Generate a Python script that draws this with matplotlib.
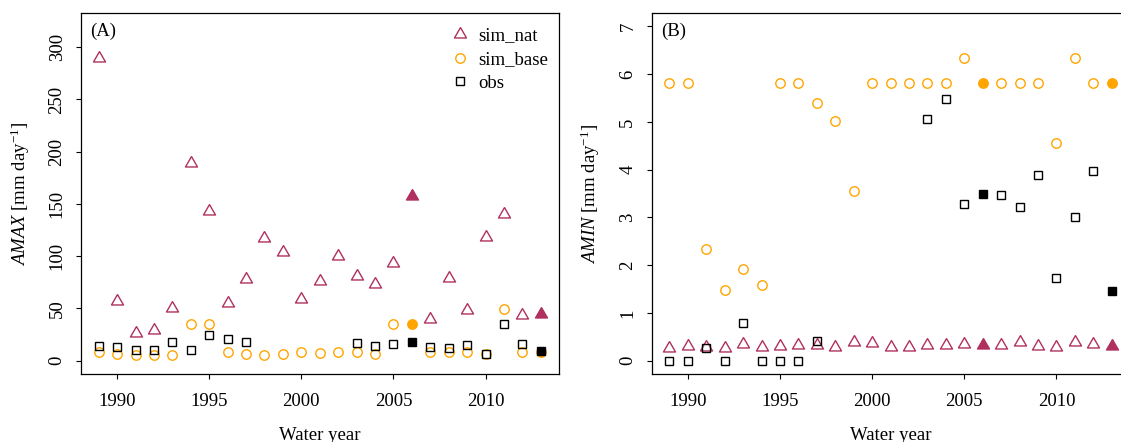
import numpy as np
import matplotlib
matplotlib.use("Agg")
import matplotlib.pyplot as plt
from matplotlib.lines import Line2D

plt.rcParams["font.family"] = ["Liberation Serif", "DejaVu Serif"]
plt.rcParams["mathtext.fontset"] = "custom"
plt.rcParams["mathtext.rm"] = "Liberation Serif"
plt.rcParams["mathtext.it"] = "Liberation Serif:italic"
plt.rcParams["font.size"] = 13.5

# ---------------------------------------------------------------------------
# Data: annual maxima / minima per water year
# ---------------------------------------------------------------------------
years = np.arange(1989, 2014)
highlight_years = [2006, 2013]

amax_sim_nat = [290, 57, 26, 29, 50, 189, 143, 55, 78, 117, 104, 59, 76,
                100, 81, 73, 93, 158, 40, 79, 48, 118, 140, 44, 45]
amax_sim_base = [8.3, 6.4, 5.0, 5.0, 5.8, 34.8, 34.8, 8.3, 6.0, 5.5, 6.7, 8.3,
                 7.0, 8.0, 8.3, 6.7, 34.8, 34.8, 8.3, 8.0, 8.3, 6.4, 49.5, 8.6, 8.6]
amax_obs = [13.7, 13.0, 10.5, 10.5, 17.5, 10.2, 25.0, 20.8, 18.2,
            np.nan, np.nan, np.nan, np.nan, np.nan,
            17.2, 13.7, 15.6, 17.5, 13.4, 12.5, 15.0, 6.4, 35.0, 16.3, 9.6]

amin_sim_nat = [0.26, 0.31, 0.28, 0.27, 0.34, 0.29, 0.31, 0.33, 0.33, 0.29,
                0.40, 0.36, 0.29, 0.29, 0.33, 0.32, 0.34, 0.33, 0.32, 0.40,
                0.31, 0.28, 0.38, 0.34, 0.30]
amin_sim_base = [5.81, 5.81, 2.33, 1.47, 1.92, 1.59, 5.81, 5.81, 5.40, 5.02,
                 3.56, 5.81, 5.81, 5.81, 5.81, 5.81, 6.34, 5.81, 5.81, 5.81,
                 5.81, 4.55, 6.34, 5.81, 5.81]
amin_obs = [0.0, 0.0, 0.26, 0.0, 0.78, 0.0, 0.0, 0.0, 0.42,
            np.nan, np.nan, np.nan, np.nan, np.nan,
            5.06, 5.47, 3.28, 3.49, 3.47, 3.21, 3.89, 1.74, 3.0, 3.97, 1.46]

series_labels = ["sim_nat", "sim_base", "obs"]
series_colors = ["#B03060", "#FFA500", "black"]

# triangle with its centroid on the data point
TRI = [(0.0, 1.555), (1.347, -0.778), (-1.347, -0.778), (0.0, 1.555)]
MARKERS = [TRI, "o", "s"]
MSIZES = [10.0, 6.8, 6.4]

W_PX, H_PX, DPI = 1121, 442, 100


def ax_rect(left_px, right_px, top_px=13, bottom_px=374):
    return [left_px / W_PX, 1 - bottom_px / H_PX,
            (right_px - left_px) / W_PX, (bottom_px - top_px) / H_PX]


def draw_panel(ax, series, ylim, yticks, ylabel, tag):
    hl = np.isin(years, highlight_years)
    for vals, color, mk, ms in zip(series, series_colors, MARKERS, MSIZES):
        vals = np.asarray(vals, dtype=float)
        ax.plot(years[~hl], vals[~hl], ls="none", marker=mk, ms=ms,
                mfc="none", mec=color, mew=1.0, zorder=3)
        ax.plot(years[hl], vals[hl], ls="none", marker=mk, ms=ms,
                mfc=color, mec=color, mew=1.0, zorder=3)

    ax.set_xlim(1988.04, 2013.96)
    ax.set_ylim(*ylim)
    ax.set_xticks([1990, 1995, 2000, 2005, 2010])
    ax.set_yticks(yticks)
    ax.tick_params(axis="both", direction="out", length=3.6, width=0.8,
                   labelsize=13.5)
    ax.tick_params(axis="x", pad=10)
    ax.tick_params(axis="y", pad=7.5, labelrotation=90)
    for t in ax.get_yticklabels():
        t.set_va("center")
    for sp in ax.spines.values():
        sp.set_linewidth(0.9)

    ax.set_xlabel("Water year", fontsize=13.5, labelpad=12.5)
    ax.text(-0.128, 0.5, ylabel, transform=ax.transAxes, rotation=90,
            ha="center", va="center", fontsize=13.5)
    ax.text(0.019, 0.948, tag, transform=ax.transAxes, ha="left",
            va="center", fontsize=13.5)


fig = plt.figure(figsize=(W_PX / DPI, H_PX / DPI), dpi=DPI)
ax_a = fig.add_axes(ax_rect(81, 558.5))
ax_b = fig.add_axes(ax_rect(651.7, 1129.4))

draw_panel(ax_a, [amax_sim_nat, amax_sim_base, amax_obs],
           (-12.8, 332.8), [0, 50, 100, 150, 200, 250, 300],
           r"$\mathit{AMAX}$ [mm day$^{-1}$]", "(A)")
draw_panel(ax_b, [amin_sim_nat, amin_sim_base, amin_obs],
           (-0.28, 7.28), [0, 1, 2, 3, 4, 5, 6, 7],
           r"$\mathit{AMIN}$ [mm day$^{-1}$]", "(B)")

handles = [Line2D([], [], ls="none", marker=mk, ms=ms, mfc="none",
                  mec=c, mew=1.0)
           for mk, ms, c in zip(MARKERS, MSIZES, series_colors)]
ax_a.legend(handles, series_labels, loc="upper left",
            bbox_to_anchor=((450.6 - 81) / 477.5, (374 - 27.5) / 361),
            frameon=False, borderpad=0, borderaxespad=0,
            handlelength=1.0, handletextpad=0.45, labelspacing=0.34,
            fontsize=13.5)

fig.savefig("out.png", dpi=DPI)
